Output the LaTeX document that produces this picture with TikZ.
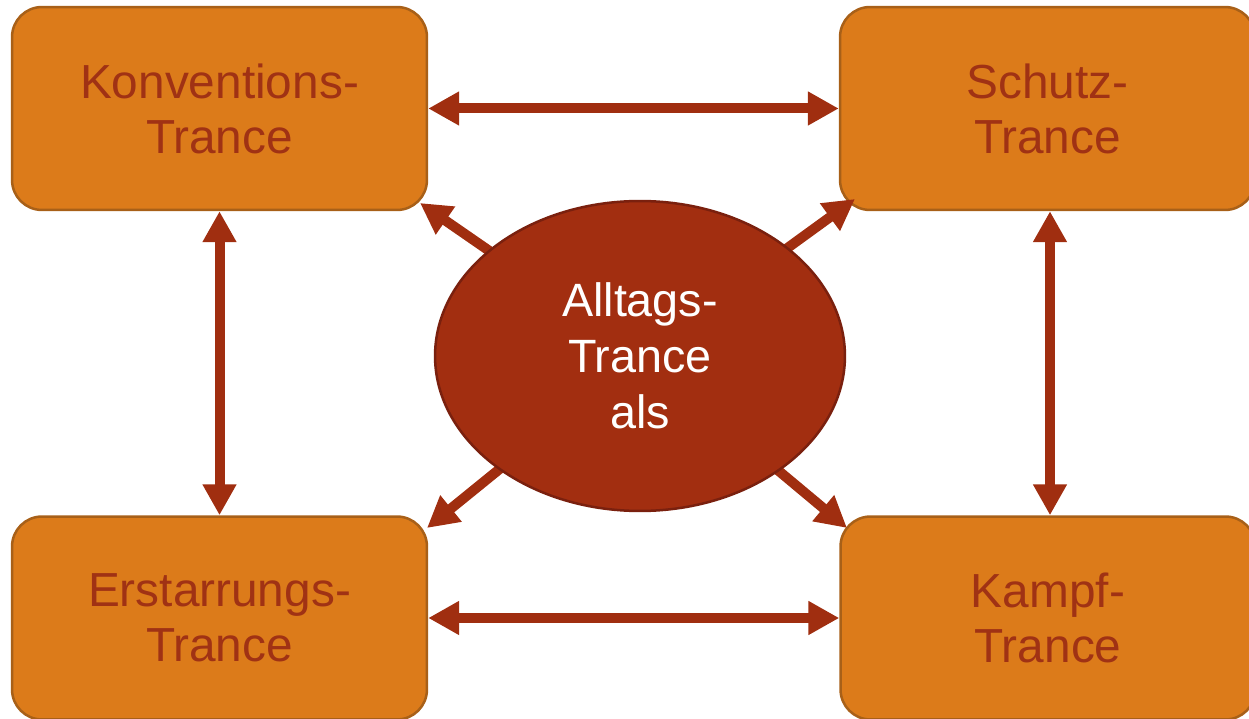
\documentclass[tikz,border=0pt]{standalone}
\usepackage{fontspec}
\setmainfont{Liberation Sans}
\usetikzlibrary{arrows.meta,shapes.geometric}
\definecolor{boxorange}{RGB}{220,123,26}
\definecolor{boxrand}{RGB}{168,96,24}
\definecolor{schrift}{RGB}{160,50,20}
\definecolor{kern}{RGB}{162,46,16}
\definecolor{kernrand}{RGB}{122,32,14}
\definecolor{pfeilrot}{RGB}{160,46,16}
\begin{document}
\begin{tikzpicture}[x=0.02cm,y=-0.02cm,
  >={Triangle[length=0.62cm,width=0.64cm]},
  trance/.style={draw=boxrand,line width=0.05cm,fill=boxorange,rounded corners=0.6cm,
    minimum width=8.3cm,minimum height=4.06cm,align=center,text=schrift,
    font=\fontsize{27.2}{31.3}\selectfont},
  pfeil/.style={draw=pfeilrot,line width=0.2cm}]
\useasboundingbox (0,0) rectangle (1249,719);
\clip (0,0) rectangle (1249,719);

% die vier Trancen
\node[trance] (kon) at (219.5,108.5) {Konventions-\\Trance};
\node[trance] (sch) at (1047.5,108.5) {Schutz-\\Trance};
\node[trance] (erst) at (219.5,618) {Erstarrungs-\\Trance};
\node[trance] (kampf) at (1048,618) {Kampf-\\Trance};

% Spitzen der schraegen Pfeile
\coordinate (tl) at (420,203);
\coordinate (tr) at (855,199);
\coordinate (bl) at (427,528);
\coordinate (br) at (847,528);

\coordinate (mitte) at (640,355);
\foreach \z in {tl,tr,bl,br}
{
    \draw[pfeil,->] (mitte) -- (\z);
}

\node[ellipse,draw=kernrand,line width=0.05cm,fill=kern,minimum width=8.2cm,minimum height=6.2cm,
  inner sep=0pt,align=center,text=white,font=\fontsize{26.6}{31.8}\selectfont]
  (alltag) at (640,356) {Alltags-\\Trance\\als};

\draw[pfeil,<->] (kon) -- (sch);
\draw[pfeil,<->] (erst) -- (kampf);
\draw[pfeil,<->] (kon) -- (erst);
\draw[pfeil,<->] (sch.south) ++(2.5,0) coordinate (s1) -- (s1 |- kampf.north);

\end{tikzpicture}
\end{document}
